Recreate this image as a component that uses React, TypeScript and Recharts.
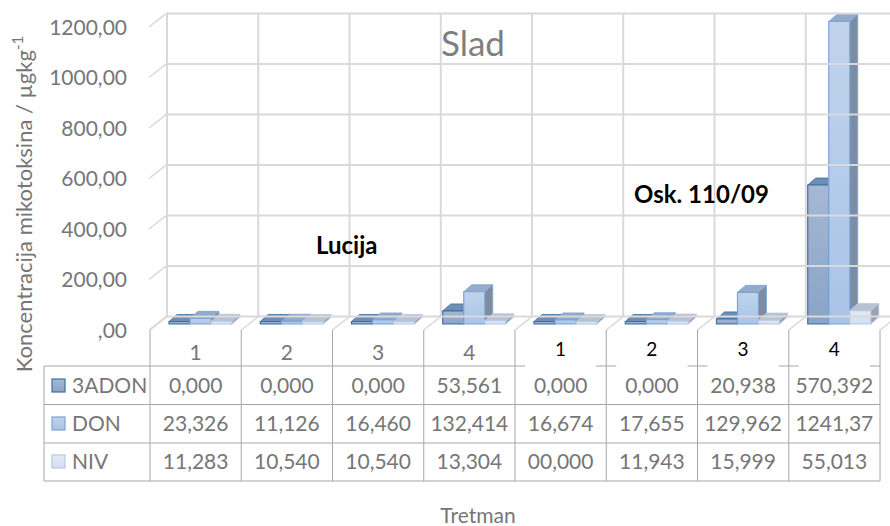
import React from 'react';
import { BarChart, Bar, XAxis, YAxis } from 'recharts';

// ---------- data ----------
const slots = ['L1', 'L2', 'L3', 'L4', 'O1', 'O2', 'O3', 'O4'];
const treatmentLabels = ['1', '2', '3', '4', '1', '2', '3', '4'];
const groupOf = ['Lucija', 'Lucija', 'Lucija', 'Lucija', 'Osk', 'Osk', 'Osk', 'Osk'];
const seriesNames = ['3ADON', 'DON', 'NIV'];
const adon3Values = [0, 0, 0, 53.561, 0, 0, 20.938, 570.392];
const donValues = [23.326, 11.126, 16.46, 132.414, 16.674, 17.655, 129.962, 1241.37];
const nivValues = [11.283, 10.54, 10.54, 13.304, 0, 11.943, 15.999, 55.013];
const adon3Text = ['0,000', '0,000', '0,000', '53,561', '0,000', '0,000', '20,938', '570,392'];
const donText = ['23,326', '11,126', '16,460', '132,414', '16,674', '17,655', '129,962', '1241,37'];
const nivText = ['11,283', '10,540', '10,540', '13,304', '00,000', '11,943', '15,999', '55,013'];
const yTicks = [0, 200, 400, 600, 800, 1000, 1200];
const yTickLabels = [',00', '200,00', '400,00', '600,00', '800,00', '1000,00', '1200,00'];

const data = slots.map((s, i) => ({
  slot: s,
  adon3: adon3Values[i],
  don: donValues[i],
  niv: nivValues[i],
}));

// ---------- layout / style ----------
const W = 890;
const H = 526;
const PLOT_LEFT = 150;
const PLOT_RIGHT = 880;
const FLOOR_Y = 330;
const DX = 17; // wall depth offset
const DY = 13.4;
const BACK_TOP = 27 - DY;
const BACK_BOTTOM = FLOOR_Y - DY;
const ROW_LINES = [366, 404.5, 443, 481];
const ROW_BASE = [393, 431, 469];
const TABLE_LEFT = 44;
const FONT = 'Lato, "Open Sans", sans-serif';
const GRAY_TEXT = '#767676';
const GRID = '#d9d9d9';
const TABLE_LINE = '#a6a6a6';

const palette = [
  { id: 'adon', g1: '#a6b8d4', g2: '#8aa3c7', stroke: '#3f6f9f', top: '#6f8cb6', side: '#6a7e9b' },
  { id: 'don', g1: '#c0d3ec', g2: '#a9c4e7', stroke: '#7ba4d6', top: '#93aacb', side: '#7e8ca1' },
  { id: 'niv', g1: '#e3ebf5', g2: '#d2def0', stroke: '#b5c8e4', top: '#b8c2d1', side: '#9aa3b0' },
];
const tableTexts = [adon3Text, donText, nivText];

const BAR_SHIFT = 5;
const BDX = 8;
const BDY = 7;

function make3D(c: any) {
  return (props: any) => {
    const { x, y, width, height } = props;
    if (x == null || y == null) return null;
    const X = x + BAR_SHIFT;
    const hh = Math.max(height || 0, 2.5);
    const base = y + (height || 0);
    const top = base - hh;
    const w = width;
    const front = `M${X},${top} h${w} v${hh} h${-w} Z`;
    const topFace = `M${X},${top} L${X + BDX},${top - BDY} L${X + w + BDX},${top - BDY} L${X + w},${top} Z`;
    const side = `M${X + w},${top} L${X + w + BDX},${top - BDY} L${X + w + BDX},${base - BDY} L${X + w},${base} Z`;
    return (
      <g>
        <defs>
          <linearGradient id={`grad-${c.id}`} x1="0" y1="0" x2="0" y2="1">
            <stop offset="0%" stopColor={c.g1} />
            <stop offset="100%" stopColor={c.g2} />
          </linearGradient>
        </defs>
        <path d={side} fill={c.side} stroke={c.stroke} strokeWidth={0.8} strokeLinejoin="round" />
        <path d={topFace} fill={c.top} stroke={c.stroke} strokeWidth={0.8} strokeLinejoin="round" />
        <path d={front} fill={`url(#grad-${c.id})`} stroke={c.stroke} strokeWidth={1.2} />
      </g>
    );
  };
}

const WallTick = (props: any) => {
  const { y, payload } = props;
  const idx = yTicks.indexOf(payload.value);
  const yb = y - DY;
  return (
    <g>
      <line x1={PLOT_LEFT - 1} y1={y} x2={PLOT_LEFT - 1 + DX} y2={yb} stroke={GRID} strokeWidth={1.5} />
      <line x1={PLOT_LEFT - 1 + DX} y1={yb} x2={W} y2={yb} stroke={GRID} strokeWidth={2} />
      <text x={127} y={y} dy={7.5} textAnchor="end" fontFamily={FONT} fontSize={21} fill={GRAY_TEXT}>
        {idx >= 0 ? yTickLabels[idx] : ''}
      </text>
    </g>
  );
};

const TableTick = (props: any) => {
  const { x, payload } = props;
  const i = payload.index;
  const band = (PLOT_RIGHT - PLOT_LEFT) / slots.length;
  const half = typeof payload.offset === 'number' && payload.offset > 0 ? payload.offset : band / 2;
  const left = x - half;
  const right = x + half;
  const isLast = i === slots.length - 1;
  const osk = groupOf[i] === 'Osk';
  return (
    <g>
      {/* back wall vertical + floor diagonal */}
      <line x1={left + DX} y1={BACK_TOP} x2={left + DX} y2={BACK_BOTTOM} stroke={GRID} strokeWidth={2} />
      <line x1={left} y1={FLOOR_Y} x2={left + DX} y2={BACK_BOTTOM} stroke={GRID} strokeWidth={1.5} />
      {isLast && <line x1={right} y1={FLOOR_Y} x2={right + DX} y2={BACK_BOTTOM} stroke={GRID} strokeWidth={1.5} />}
      {/* table verticals */}
      <line x1={left} y1={FLOOR_Y} x2={left} y2={ROW_LINES[3]} stroke={TABLE_LINE} strokeWidth={1} />
      {isLast && <line x1={right} y1={FLOOR_Y} x2={right} y2={ROW_LINES[3]} stroke={TABLE_LINE} strokeWidth={1} />}
      {ROW_LINES.map((ly, k) => (
        <line key={k} x1={left} y1={ly} x2={right} y2={ly} stroke={TABLE_LINE} strokeWidth={1} />
      ))}
      {osk ? (
        <g>
          <rect x={left + 10} y={340} width={right - left - 20} height={28} fill="#fff" />
          <text x={x} y={356} textAnchor="middle" fontFamily={FONT} fontSize={19} fill="#000">
            {treatmentLabels[i]}
          </text>
        </g>
      ) : (
        <text x={x} y={360} textAnchor="middle" fontFamily={FONT} fontSize={21} fill={GRAY_TEXT}>
          {treatmentLabels[i]}
        </text>
      )}
      {tableTexts.map((arr, r) => (
        <text key={r} x={x} y={ROW_BASE[r]} textAnchor="middle" fontFamily={FONT} fontSize={21} fill={GRAY_TEXT}>
          {arr[i]}
        </text>
      ))}
      {i === 0 && (
        <g>
          {ROW_LINES.map((ly, k) => (
            <line key={k} x1={TABLE_LEFT} y1={ly} x2={left} y2={ly} stroke={TABLE_LINE} strokeWidth={1} />
          ))}
          <line x1={TABLE_LEFT} y1={ROW_LINES[0]} x2={TABLE_LEFT} y2={ROW_LINES[3]} stroke={TABLE_LINE} strokeWidth={1} />
          {seriesNames.map((n, r) => (
            <g key={n}>
              <defs>
                <linearGradient id={`lg-${palette[r].id}`} x1="0" y1="0" x2="0" y2="1">
                  <stop offset="0%" stopColor={palette[r].g1} />
                  <stop offset="100%" stopColor={palette[r].g2} />
                </linearGradient>
              </defs>
              <rect
                x={52}
                y={ROW_BASE[r] - 14}
                width={13}
                height={13}
                fill={`url(#lg-${palette[r].id})`}
                stroke={palette[r].stroke}
                strokeWidth={1.2}
              />
              <text x={72} y={ROW_BASE[r]} fontFamily={FONT} fontSize={21} fill={GRAY_TEXT}>
                {n}
              </text>
            </g>
          ))}
        </g>
      )}
    </g>
  );
};

export default function App() {
  return (
    <div style={{ position: 'fixed', left: 0, top: 0, width: W, height: H, background: '#fff' }}>
      <BarChart
        width={W}
        height={H}
        data={data}
        margin={{ top: 13, right: W - PLOT_RIGHT, bottom: 0, left: 0 }}
        barGap={0}
        barCategoryGap={14}
      >
        <XAxis
          dataKey="slot"
          height={H - FLOOR_Y}
          axisLine={false}
          tickLine={false}
          interval={0}
          tick={(p: any) => <TableTick {...p} />}
          zIndex={-100}
        />
        <YAxis
          yAxisId="front"
          width={PLOT_LEFT}
          type="number"
          domain={[0, 1255.45]}
          ticks={yTicks}
          allowDataOverflow
          axisLine={false}
          tickLine={false}
          interval={0}
          tick={(p: any) => <WallTick {...p} />}
          zIndex={-100}
        />
        <YAxis yAxisId="bars" hide type="number" domain={[-24.6, 1276.2]} />
        <Bar yAxisId="bars" dataKey="adon3" name={seriesNames[0]} isAnimationActive={false} shape={make3D(palette[0])} />
        <Bar yAxisId="bars" dataKey="don" name={seriesNames[1]} isAnimationActive={false} shape={make3D(palette[1])} />
        <Bar yAxisId="bars" dataKey="niv" name={seriesNames[2]} isAnimationActive={false} shape={make3D(palette[2])} />
      </BarChart>
      <svg width={W} height={H} style={{ position: 'absolute', left: 0, top: 0, pointerEvents: 'none' }}>
        <text x={473} y={56} textAnchor="middle" fontFamily={FONT} fontSize={35} fill="#7f7f7f">
          Slad
        </text>
        <text x={316} y={254} fontFamily={FONT} fontSize={24} fontWeight="bold" fill="#000">
          Lucija
        </text>
        <text x={634} y={203} fontFamily={FONT} fontSize={24} fontWeight="bold" fill="#000">
          Osk. 110/09
        </text>
        <text x={478} y={523} textAnchor="middle" fontFamily={FONT} fontSize={21} fill={GRAY_TEXT}>
          Tretman
        </text>
        <text
          transform="translate(32,204) rotate(-90)"
          textAnchor="middle"
          fontFamily={FONT}
          fontSize={22}
          fill={GRAY_TEXT}
        >
          Koncentracija mikotoksina / µgkg
          <tspan fontSize={15} dy={-9}>-1</tspan>
        </text>
      </svg>
    </div>
  );
}
